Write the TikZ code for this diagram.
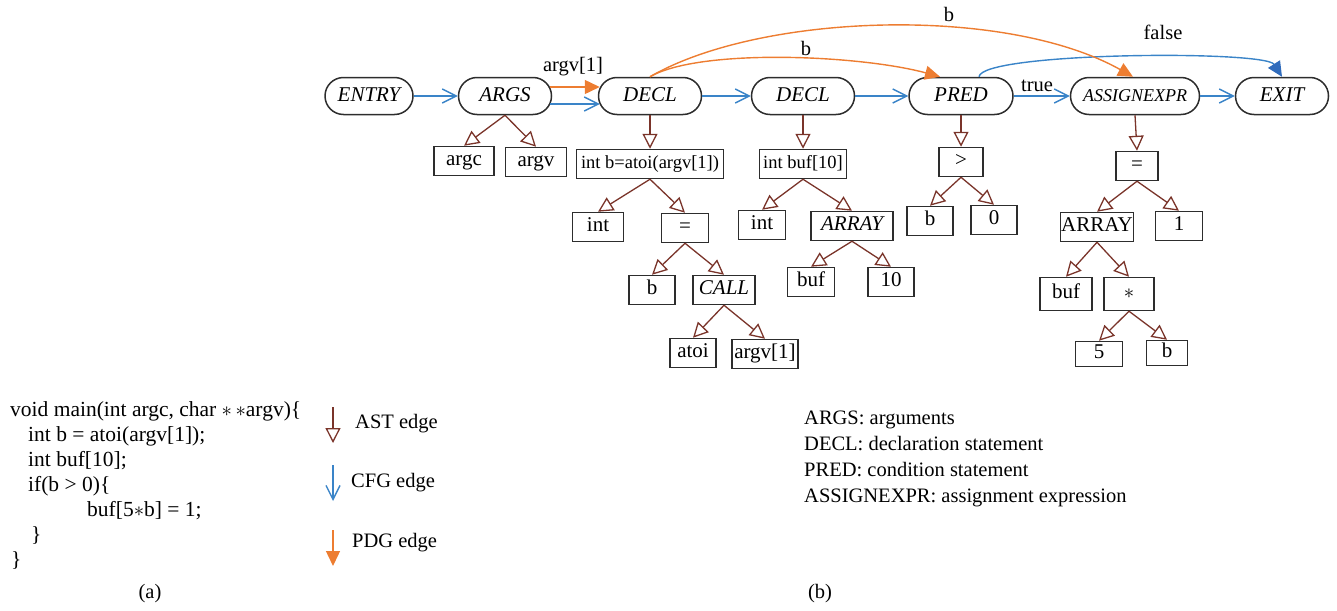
\documentclass[tikz,border=0pt]{standalone}
\usepackage{fontspec}
\setmainfont{Liberation Serif}
\usetikzlibrary{arrows.meta,shapes.misc}
\definecolor{astc}{RGB}{122,52,42}
\definecolor{cfgc}{RGB}{58,132,200}
\definecolor{cfgdark}{RGB}{48,108,188}
\definecolor{pdgc}{RGB}{237,125,49}
\definecolor{edgec}{RGB}{45,45,45}
\tikzset{
  txt/.style={font=\fontsize{20.5}{24}\selectfont, inner sep=0pt},
  codetxt/.style={font=\fontsize{21.5}{25}\selectfont, inner sep=0pt, anchor=base west},
  stmt/.style={rounded rectangle, draw=edgec, line width=1.5pt, minimum height=37pt,
    inner sep=0pt, font=\fontsize{21}{24}\selectfont\itshape, text height=14pt, text depth=4pt},
  leaf/.style={rectangle, draw=edgec, line width=1.5pt, minimum height=29pt,
    inner sep=0pt, font=\fontsize{21}{24}\selectfont, text height=14pt, text depth=4.5pt},
  ast/.style={draw=astc, line width=1.3pt, -{Triangle[open, length=15pt, width=15pt]}},
  cfg/.style={draw=cfgc, line width=1.4pt, -{Straight Barb[length=14pt, width=14pt]}},
  pdg/.style={draw=pdgc, line width=1.4pt, -{Triangle[length=15pt, width=14pt]}},
}
\begin{document}
\begin{tikzpicture}[x=1pt, y=-1pt]
\useasboundingbox (0,0) rectangle (1337,610);

% ---------- statement nodes ----------
\node[stmt, minimum width=88pt]  (entry)  at (369,96)  {ENTRY};
\node[stmt, minimum width=93pt]  (args)   at (505,96)  {ARGS};
\node[stmt, minimum width=103pt] (decl1)  at (650,96)  {DECL};
\node[stmt, minimum width=103pt] (decl2)  at (803,96)  {DECL};
\node[stmt, minimum width=104pt] (pred)   at (961,96)  {PRED};
\node[stmt, minimum width=129pt, font=\fontsize{18}{20}\selectfont\itshape] (assign) at (1135,96) {ASSIGNEXPR};
\node[stmt, minimum width=93pt]  (exit)   at (1282,96) {EXIT};

% ---------- AST leaves ----------
\node[leaf, minimum width=60pt] (argc) at (464,161) {argc};
\node[leaf, minimum width=61pt] (argv) at (536,162) {argv};

\node[leaf, minimum width=147pt, font=\fontsize{18.5}{22}\selectfont] (intb) at (650,164) {int b=atoi(argv[1])};
\node[leaf, minimum width=51pt] (int1) at (598,227) {int};
\node[leaf, minimum width=47pt] (eq1)  at (685,228) {=};
\node[leaf, minimum width=46pt] (b1)   at (652,290) {b};
\node[leaf, minimum width=62pt, font=\fontsize{21}{24}\selectfont\itshape] (call) at (724,290) {CALL};
\node[leaf, minimum width=46pt] (atoi) at (693,353) {atoi};
\node[leaf, minimum width=66pt] (argvone) at (765,354) {argv[1]};

\node[leaf, minimum width=87pt, font=\fontsize{18.5}{22}\selectfont] (intbuf) at (803,164) {int buf[10]};
\node[leaf, minimum width=47pt] (int2) at (762,225) {int};
\node[leaf, minimum width=82pt, font=\fontsize{21}{24}\selectfont\itshape] (arr1) at (852,226) {ARRAY};
\node[leaf, minimum width=47pt] (buf1) at (811,282) {buf};
\node[leaf, minimum width=46pt] (ten)  at (891,282) {10};

\node[leaf, minimum width=44pt] (gt)   at (961,162) {>};
\node[leaf, minimum width=46pt] (b2)   at (930,221) {b};
\node[leaf, minimum width=46pt] (zero) at (994,220) {0};

\node[leaf, minimum width=42pt] (eq2)  at (1137,166) {=};
\node[leaf, minimum width=73pt] (arr2) at (1097,227) {ARRAY};
\node[leaf, minimum width=47pt] (one)  at (1179,226) {1};
\node[leaf, minimum width=52pt, minimum height=33pt] (buf2) at (1066,294) {buf};
\node[leaf, minimum width=50pt, minimum height=33pt] (star) at (1129,294) {$\ast$};
\node[leaf, minimum width=47pt, minimum height=25pt] (five) at (1099,354) {5};
\node[leaf, minimum width=41pt, minimum height=25pt] (b3)   at (1167,353) {b};

% ---------- AST edges ----------
\foreach \p/\c in {args/argc, args/argv, decl1/intb, intb/int1, intb/eq1, eq1/b1, eq1/call,
                   call/atoi, call/argvone, decl2/intbuf, intbuf/int2, intbuf/arr1, arr1/buf1,
                   arr1/ten, pred/gt, gt/b2, gt/zero, assign/eq2, eq2/arr2, eq2/one,
                   arr2/buf2, arr2/star, star/five, star/b3}
  \draw[ast] (\p.south) -- (\c.north);

% ---------- CFG edges ----------
\draw[cfg] (entry.east) -- (args.west);
\draw[cfg] ([xshift=-2pt,yshift=-8pt]args.east) -- ([xshift=2pt,yshift=-8pt]decl1.west);
\draw[cfg] (decl1.east) -- (decl2.west);
\draw[cfg] (decl2.east) -- (pred.west);
\draw[cfg] (pred.east) -- (assign.west);
\draw[cfg] (assign.east) -- (exit.west);
\draw[draw=cfgc, line width=1.4pt, -{Triangle[length=15pt, width=14pt, color=cfgdark]}]
  ([xshift=18pt]pred.north) .. controls (982,52) and (1265,50) .. (exit.north);

% ---------- PDG edges ----------
\draw[pdg] ([xshift=-2pt,yshift=9pt]args.east) -- ([xshift=2pt,yshift=9pt]decl1.west);
\draw[pdg] (decl1.north) .. controls (700,48) and (860,55) .. ([xshift=-21pt]pred.north);
\draw[pdg] (decl1.north) .. controls (760,13) and (1005,5) .. ([xshift=-2pt]assign.north);

% ---------- edge labels ----------
\node[txt] (largv) at (573,67)  {argv[1]};
\node[txt] (lb1)   at (806,48)  {b};
\node[txt] (lb2)   at (949,14)  {b};
\node[txt] (lfalse) at (1163,32) {false};
\node[txt] (ltrue) at (1037,86) {true};

% ---------- source code ----------
\node[codetxt] (code1) at (10,416) {void main(int argc, char $\ast\,\ast$argv)\{};
\node[codetxt] (code2) at (28,441) {int b = atoi(argv[1]);};
\node[codetxt] (code3) at (28,466) {int buf[10];};
\node[codetxt] (code4) at (28,491) {if(b > 0)\{};
\node[codetxt] (code5) at (87,516) {buf[5$\ast$b] = 1;};
\node[codetxt] (code6) at (31,541) {\}};
\node[codetxt] (code7) at (11,566) {\}};
\node[txt] (capa) at (150,594) {(a)};

% ---------- legend ----------
\coordinate (astA) at (333,407);
\coordinate (astB) at (333,443);
\draw[ast] (astA) -- (astB);
\node[txt, anchor=base west] (astl) at (355,428) {AST edge};
\coordinate (cfgA) at (333,465);
\coordinate (cfgB) at (333,501);
\draw[cfg] (cfgA) -- (cfgB);
\node[txt, anchor=base west] (cfgl) at (351,487) {CFG edge};
\coordinate (pdgA) at (333,530);
\coordinate (pdgB) at (333,566);
\draw[pdg] (pdgA) -- (pdgB);
\node[txt, anchor=base west] (pdgl) at (352,547) {PDG edge};

% ---------- abbreviations ----------
\node[txt, anchor=base west] (def1) at (804,424) {ARGS: arguments};
\node[txt, anchor=base west] (def2) at (804,450) {DECL: declaration statement};
\node[txt, anchor=base west] (def3) at (804,476) {PRED: condition statement};
\node[txt, anchor=base west] (def4) at (804,502) {ASSIGNEXPR: assignment expression};
\node[txt] (capb) at (820,594) {(b)};
\end{tikzpicture}
\end{document}
